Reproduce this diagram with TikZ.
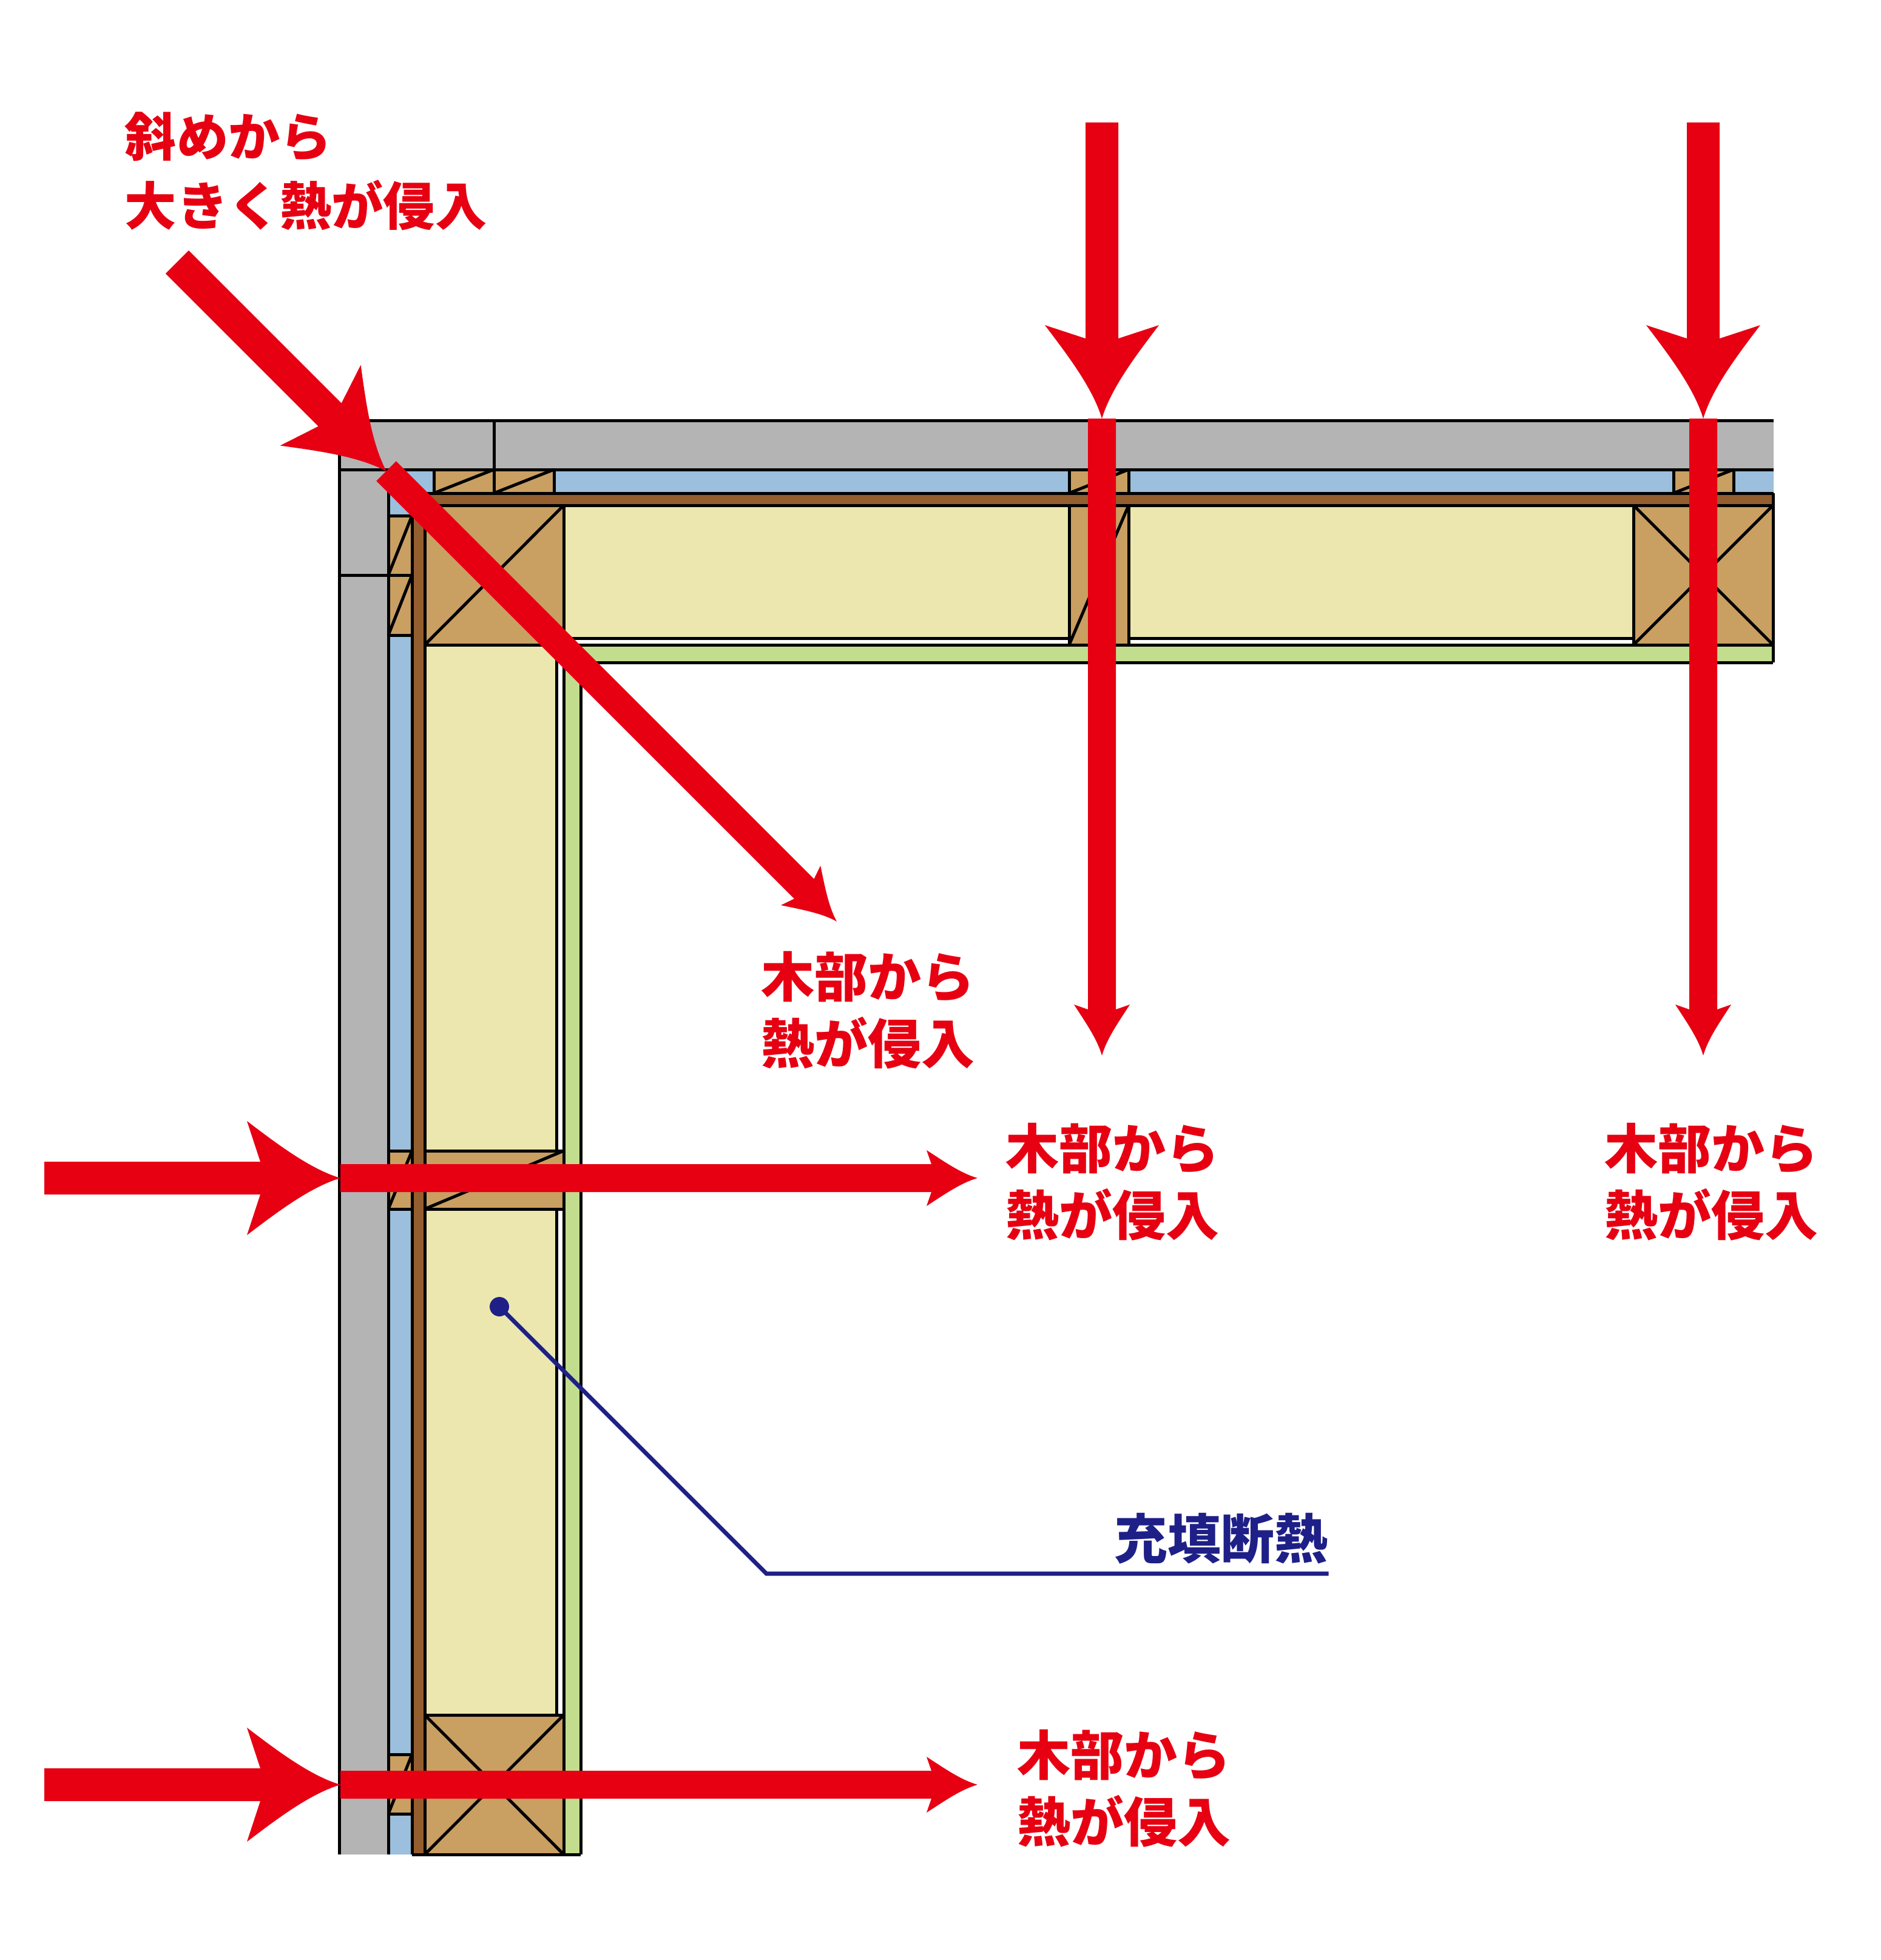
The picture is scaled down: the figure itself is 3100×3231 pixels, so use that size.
\documentclass[tikz,border=0pt]{standalone}
\usepackage{fontspec}
\newfontfamily\jpfont{Noto Sans CJK JP Black}

\definecolor{heatred}{RGB}{230,0,18}
\definecolor{navyline}{RGB}{30,32,136}
\definecolor{sidinggray}{RGB}{180,180,180}
\definecolor{airblue}{RGB}{155,191,220}
\definecolor{woodtan}{RGB}{201,159,98}
\definecolor{boardbrown}{RGB}{149,94,47}
\definecolor{insulyellow}{RGB}{236,231,174}
\definecolor{gypsumgreen}{RGB}{195,221,143}

\tikzset{
	part/.style={draw=black, line width=1.25pt},
	wood/.style={part, fill=woodtan},
	insul/.style={part, fill=insulyellow},
	heatlabel/.style={font=\jpfont\fontsize{22pt}{27.5pt}\selectfont, text=heatred, align=left, anchor=north west, inner sep=0pt},
	filllabel/.style={heatlabel, text=navyline},
	pics/outerheat/.style={code={
		\fill[heatred] (0,0) .. controls (-50,-15) and (-104,-56) .. (-154,-94) -- (-132,-27) -- (-488,-27)
			-- (-488,27) -- (-132,27) -- (-154,94) .. controls (-104,56) and (-50,15) .. (0,0) -- cycle;
	}},
	pics/innerheat/.style={code={
		\fill[heatred] (0,0) .. controls (-28,-8) and (-56,-28) .. (-84,-46) -- (-76,-23) -- (-1050,-23)
			-- (-1050,23) -- (-76,23) -- (-84,46) .. controls (-56,28) and (-28,8) .. (0,0) -- cycle;
	}},
}

\begin{document}
\begin{tikzpicture}[x=0.25pt, y=-0.25pt]
	\useasboundingbox (0,0) rectangle (3100,3231);

\begin{scope}[line width=1.25pt]
	\fill[sidinggray] (559,693) -- (2923,693) -- (2923,774) -- (640,774) -- (640,3057) -- (559,3057) -- cycle;
	\fill[airblue] (640,774) -- (2923,774) -- (2923,813) -- (679,813) -- (679,3057) -- (640,3057) -- cycle;
	\fill[boardbrown] (679,813) -- (2922,813) -- (2922,833) -- (700,833) -- (700,3057) -- (679,3057) -- cycle;
	\fill[gypsumgreen] (929,1063) -- (2922,1063) -- (2922,1092) -- (957,1092) -- (957,3057) -- (929,3057) -- cycle;

	\draw (2923,693) -- (559,693) -- (559,3057);
	\draw (559,774) -- (2923,774);
	\draw (640,774) -- (640,3057);
	\draw (814,693) -- (814,774);
	\draw (559,948) -- (640,948);
	\draw (679,813) -- (2923,813);
	\draw (679,813) -- (679,3057);
	\draw (700,833) -- (2922,833);
	\draw (700,833) -- (700,3057);
	\draw (700,1063) -- (2922,1063);
	\draw (929,1063) -- (929,3057);
	\draw (957,1092) -- (2922,1092);
	\draw (957,1092) -- (957,3057);
	\draw (2922,813) -- (2922,1092);
	\draw (679,3057) -- (957,3057);
\end{scope}

\begin{scope}
	\filldraw[insul] (929,833) rectangle (1762,1052);
	\filldraw[insul] (1860,833) rectangle (2692,1052);
	\filldraw[insul] (700,1063) rectangle (917,1897);
	\filldraw[insul] (700,1993) rectangle (917,2827);

	\filldraw[wood] (700,833) rectangle (929,1063);
	\draw[part] (700,833) -- (929,1063) (700,1063) -- (929,833);
	\filldraw[wood] (2692,833) rectangle (2922,1063);
	\draw[part] (2692,833) -- (2922,1063) (2692,1063) -- (2922,833);
	\filldraw[wood] (700,2827) rectangle (929,3057);
	\draw[part] (700,2827) -- (929,3057) (700,3057) -- (929,2827);
	\filldraw[wood] (1762,833) rectangle (1860,1063);
	\draw[part] (1762,1063) -- (1860,833);
	\filldraw[wood] (700,1897) rectangle (929,1993);
	\draw[part] (700,1993) -- (929,1897);

	\filldraw[wood] (715,774) rectangle (814,813);
	\draw[part] (715,813) -- (814,774);
	\filldraw[wood] (814,774) rectangle (913,813);
	\draw[part] (814,813) -- (913,774);
	\filldraw[wood] (1762,774) rectangle (1860,813);
	\draw[part] (1762,813) -- (1860,774);
	\filldraw[wood] (2758,774) rectangle (2857,813);
	\draw[part] (2758,813) -- (2857,774);

	\filldraw[wood] (640,850) rectangle (679,948);
	\draw[part] (640,948) -- (679,850);
	\filldraw[wood] (640,948) rectangle (679,1047);
	\draw[part] (640,1047) -- (679,948);
	\filldraw[wood] (640,1897) rectangle (679,1993);
	\draw[part] (640,1993) -- (679,1897);
	\filldraw[wood] (640,2892) rectangle (679,2990);
	\draw[part] (640,2990) -- (679,2892);
\end{scope}

\begin{scope}
	\coordinate (diagTip) at (637,777);
	\coordinate (diagEnd) at (1379,1519);
	\coordinate (midTip) at (1816,690);
	\coordinate (midEnd) at (1816,1740);
	\coordinate (rightTip) at (2807,690);
	\coordinate (rightEnd) at (2807,1740);
	\coordinate (upperTip) at (561,1942);
	\coordinate (upperEnd) at (1611,1942);
	\coordinate (lowerTip) at (561,2942);
	\coordinate (lowerEnd) at (1611,2942);

	\pic[rotate=-45] at (diagTip) {outerheat};
	\pic[rotate=-45] at (diagEnd) {innerheat};
	\pic[rotate=-90] at (midTip) {outerheat};
	\pic[rotate=-90] at (midEnd) {innerheat};
	\pic[rotate=-90] at (rightTip) {outerheat};
	\pic[rotate=-90] at (rightEnd) {innerheat};
	\pic at (upperTip) {outerheat};
	\pic at (upperEnd) {innerheat};
	\pic at (lowerTip) {outerheat};
	\pic at (lowerEnd) {innerheat};
\end{scope}

	\node[heatlabel, font=\jpfont\fontsize{21.3pt}{28.5pt}\selectfont] (lblOblique) at (205,184) {斜めから\\大きく熱が侵入};
	\node[heatlabel] (lblWoodDiag) at (1254,1567) {木部から\\熱が侵入};
	\node[heatlabel] (lblWoodMid) at (1657,1850) {木部から\\熱が侵入};
	\node[heatlabel] (lblWoodRight) at (2644,1850) {木部から\\熱が侵入};
	\node[heatlabel] (lblWoodLow) at (1676,2850) {木部から\\熱が侵入};
	\node[filllabel] (lblFill) at (1836,2493) {充填断熱};

	\node[circle, fill=navyline, inner sep=0pt, minimum size=8pt] (fillDot) at (823,2154) {};
	\coordinate (fillBend) at (1263,2594);
	\draw[navyline, line width=1.75pt] (fillDot.center) -- (fillBend) -- (fillBend -| lblFill.east);

\end{tikzpicture}
\end{document}
